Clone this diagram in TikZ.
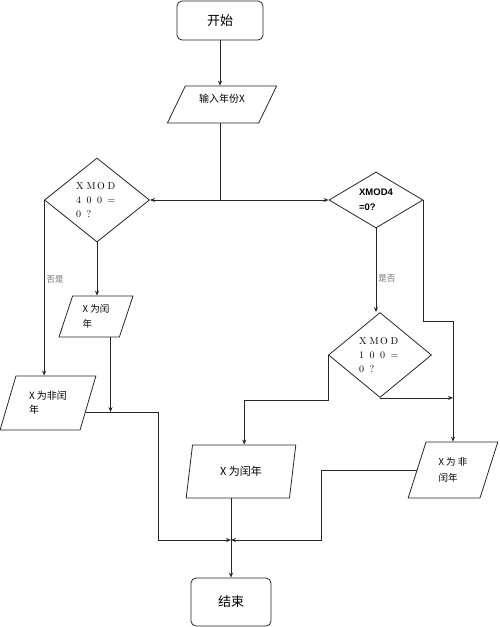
\documentclass[tikz,border=0pt]{standalone}
\usepackage{fontspec}
\usetikzlibrary{shapes.geometric,arrows.meta,calc}
\newfontfamily\cjk{Noto Sans CJK SC}
\newfontfamily\hei{Liberation Sans}
\newcommand\fw[1]{\makebox[10.5pt][l]{#1}}
\tikzset{
  line/.style={draw=black!85, line width=0.8pt},
  arr/.style={line, -{Stealth[length=5pt,width=4pt]}},
  term/.style={line, rounded corners=5pt, inner sep=0pt, font=\cjk\fontsize{13}{15}\selectfont},
  io/.style={line, trapezium, trapezium stretches=true, inner sep=0pt, align=left},
  test/.style={line, diamond, inner sep=0pt, align=left},
  note/.style={inner sep=2pt, text=black!55, font=\cjk\fontsize{8.5}{10}\selectfont}
}
\begin{document}
\begin{tikzpicture}[x=1pt, y=-1pt]
\useasboundingbox (0,0) rectangle (500,627);
\node[term, minimum width=86pt, minimum height=39pt] (start) at (220,20.5) {开始};
\node[io, trapezium left angle=62, trapezium right angle=118, minimum width=110pt, minimum height=37pt,
  text height=8pt, text depth=13pt, font=\cjk\fontsize{10}{12}\selectfont] (input) at (222,104.5) {输入年份X};
\node[test, minimum width=105pt, minimum height=84pt, font=\fontsize{10}{14}\selectfont] (d400) at (97,200)
  {\fw{X}\fw{M}\fw{O}\fw{D}\\\fw{4}\fw{0}\fw{0}\fw{=}\\\fw{0}\fw{?}};
\node[test, minimum width=94pt, minimum height=56pt, font=\hei\bfseries\fontsize{9.5}{15}\selectfont] (d4) at (376,200)
  {XMOD4\\=0?};
\node[test, minimum width=103pt, minimum height=85pt, font=\fontsize{10}{14}\selectfont] (d100) at (380,355)
  {\fw{X}\fw{M}\fw{O}\fw{D}\\\fw{1}\fw{0}\fw{0}\fw{=}\\\fw{0}\fw{?}};
\node[io, trapezium left angle=72, trapezium right angle=108, minimum width=74pt, minimum height=41pt,
  font=\cjk\fontsize{9.5}{15}\selectfont] (leap1) at (96,316.5) {X\ 为闰\\年};
\node[io, trapezium left angle=68, trapezium right angle=112, minimum width=96pt, minimum height=54pt,
  font=\cjk\fontsize{10}{14}\selectfont] (notleap1) at (48,403) {X\ 为非闰\\年};
\node[io, trapezium left angle=75, trapezium right angle=105, minimum width=110pt, minimum height=53pt,
  font=\cjk\fontsize{11}{13}\selectfont] (leap2) at (241,471.5) {X\ 为闰年};
\node[io, trapezium left angle=69, trapezium right angle=111, minimum width=90pt, minimum height=56pt,
  font=\cjk\fontsize{9.5}{16}\selectfont] (notleap2) at (453,470) {X\ 为\ 非\\闰年};
\node[term, minimum width=80pt, minimum height=48pt] (end) at (231,602) {结束};
\coordinate (join) at (231,540);

\draw[arr] (start.south) -- (start.south |- input.north);
\draw[line] (start.south |- input.south) -- (start.south |- d4.west) coordinate (fork);
\draw[arr] (fork) -- (d400.east);
\draw[arr] (fork) -- (d4.west);
\draw[arr] (d400.west) -- (d400.west |- notleap1.north) node[pos=.45, right, note] {否是};
\draw[arr] (d400.south) -- (d400.south |- leap1.north);
\draw[arr] ($(notleap1.right side)!0.33!(notleap1.bottom right corner)$) -- ++(73,0) coordinate (bend) |- (join);
\draw[arr] ($(leap1.bottom left corner)!0.85!(leap1.bottom right corner)$) coordinate (leapout) -- (leapout |- bend);
\draw[arr] (d4.south) -- (d4.south |- d100.north) node[pos=.6, right, note] {是否};
\draw[arr] (d4.east) -- ++(0,121) -| (notleap2.north);
\draw[arr] (d100.south) -- (d100.south -| notleap2.north);
\draw[arr] (d100.west) -- ++(0,45) -| (leap2.top side);
\draw[arr] (notleap2.left side) -- ++(-95,0) |- (join);
\draw[arr] (leap2.south -| end.north) -- (end.north);
\end{tikzpicture}
\end{document}
